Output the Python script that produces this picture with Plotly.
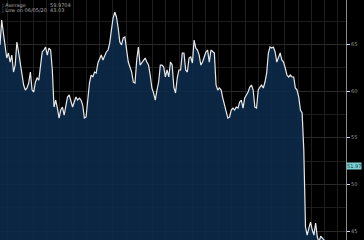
import plotly.graph_objects as go

values = [
    64.94, 67.61, 66.22, 64.72, 63.54, 64.08, 63.11, 63.86, 62.04, 62.79,
    65.26, 64.19, 63.01, 62.04, 60.65, 60.11, 60.33, 60.86, 62.04, 60.11,
    59.90, 60.97, 61.40, 61.18, 63.01, 64.19, 64.40, 64.72, 63.86, 64.61,
    64.40, 62.26, 58.29, 59.04, 58.18, 57.11, 57.97, 58.29, 57.43, 58.29,
    59.36, 59.58, 59.04, 58.29, 58.83, 59.36, 59.04, 59.25, 59.04, 58.50,
    57.11, 57.22, 59.04, 60.86, 61.72, 61.51, 62.04, 61.93, 63.01, 63.54,
    63.86, 63.33, 63.86, 64.19, 64.40, 65.15, 66.54, 67.83, 68.47, 67.94,
    66.76, 65.26, 64.94, 65.69, 65.79, 64.61, 63.11, 62.58, 62.04, 60.97,
    60.86, 63.33, 64.72, 62.79, 63.01, 63.33, 63.54, 63.11, 62.79, 61.72,
    60.33, 59.79, 59.04, 60.11, 60.97, 62.79, 62.79, 62.58, 61.51, 62.26,
    61.51, 63.11, 62.79, 60.43, 59.79, 61.40, 62.26, 62.26, 64.08, 64.08,
    62.26, 62.04, 63.54, 63.65, 63.01, 65.47, 64.61, 64.40, 63.86, 62.79,
    63.11, 63.65, 64.19, 64.40, 63.11, 64.40, 64.19, 64.08, 60.65, 60.11,
    60.33, 60.11, 59.25, 58.50, 57.65, 57.11, 57.22, 57.97, 58.18, 57.97,
    58.29, 58.18, 58.83, 59.04, 58.18, 59.25, 59.58, 59.90, 60.43, 60.65,
    60.11, 58.29, 58.18, 60.11, 60.43, 60.65, 60.33, 60.97, 61.93, 64.08,
    64.72, 64.61, 64.72, 64.19, 63.11, 63.65, 64.08, 63.33, 63.11, 62.47,
    61.72, 61.51, 61.72, 61.51, 61.51, 60.33, 60.11, 59.36, 57.97, 57.65,
    53.68, 45.43, 44.57, 45.32, 45.96, 45.11, 44.57, 45.86, 44.36, 43.82,
    44.46, 44.25, 44.04, 43.60, 43.30, 43.50, 43.03, 43.40, 43.70, 43.50,
    43.80, 43.60,
]
index = list(range(len(values)))

y_ticks = [45, 50, 55, 60, 65]
legend_labels = ["Average", "Low on 06/05/20"]
legend_values = ["59.9704", "43.03"]
last_label = "51.97"
last_level = 51.97

fig = go.Figure()
fig.add_trace(go.Scatter(
    x=index, y=values, mode="lines",
    line=dict(color="#e8e8e8", width=1.2),
    fill="tozeroy", fillcolor="rgba(12,42,74,0.9)",
    hoverinfo="skip", showlegend=False,
))

for i, (lab, val) in enumerate(zip(legend_labels, legend_values)):
    fig.add_annotation(xref="paper", yref="paper", x=0.0, y=1 - i * 0.021,
                       xanchor="left", yanchor="top", showarrow=False,
                       text="¦ " + lab, font=dict(size=5, color="#a8a8a8", family="DejaVu Sans"))
    fig.add_annotation(xref="paper", yref="paper", x=0.14, y=1 - i * 0.021,
                       xanchor="left", yanchor="top", showarrow=False,
                       text=val, font=dict(size=5, color="#a8a8a8", family="DejaVu Sans"))

fig.add_annotation(xref="paper", yref="y", x=1.0, y=last_level,
                   xanchor="left", yanchor="middle", showarrow=False,
                   text=last_label, bgcolor="#7fd0d4", borderpad=0,
                   font=dict(size=5, color="#0a3a3a", family="DejaVu Sans"))

fig.update_layout(
    width=364, height=240,
    margin=dict(l=0, r=18, t=0, b=0),
    paper_bgcolor="#000000", plot_bgcolor="#000000",
    xaxis=dict(range=[0, 205], showticklabels=False, showgrid=True,
               gridcolor="#1f1f1f", gridwidth=1, tick0=4.16, dtick=7.84,
               zeroline=False, showline=False, ticks=""),
    yaxis=dict(range=[44.04, 69.76], side="right", tickvals=y_ticks,
               tickfont=dict(size=5, color="#9a9a9a", family="DejaVu Sans"),
               showgrid=True, gridcolor="#2a2a2a", gridwidth=1,
               minor=dict(dtick=2.5, tick0=45, showgrid=True, gridcolor="#1c1c1c", gridwidth=1),
               ticks="outside", ticklen=3, tickcolor="#e0e0e0", tickwidth=1,
               showline=True, linecolor="#8a8a8a", linewidth=1,
               zeroline=False),
)

fig.write_html("out.html")
